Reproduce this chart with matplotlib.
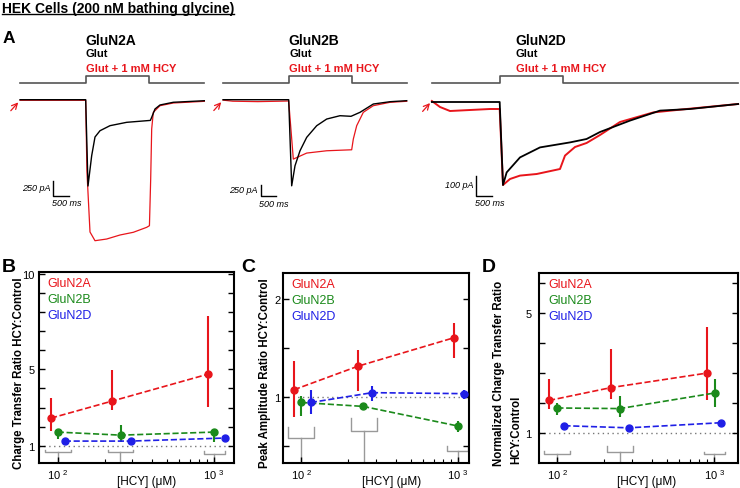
import numpy as np
import matplotlib.pyplot as plt
from matplotlib.lines import Line2D

plt.rcParams['font.family'] = ['Liberation Sans', 'DejaVu Sans']
plt.rcParams['mathtext.fontset'] = 'custom'
plt.rcParams['mathtext.rm'] = 'Liberation Sans'

W, H = 740, 489
RED = '#e8151b'
GREEN = '#1b8a1b'
BLUE = '#1f1fe6'
GREY = '#999999'

# ---- panel A traces: time (ms, 0 = glutamate on) and current (pA) ----
glut_on, glut_off = 0, 2000

a_black_t = [-2110, -10, 64, 182, 288, 448, 768, 1302, 1942, 2060, 2102, 2208, 2368, 2794, 3786]
a_black_i = [0, 0, -1438, -933, -622, -517, -433, -377, -350, -345, -293, -155, -88, -43, -17]
a_red_t = [-2110, -10, 30, 128, 288, 662, 1088, 1514, 1942, 2030, 2070, 2102, 2154, 2368, 2794, 3786]
a_red_i = [-10, -10, -1200, -2205, -2350, -2322, -2255, -2210, -2127, -2100, -1322, -488, -210, -100, -55, -27]

b_black_t = [-2110, -10, 86, 192, 352, 566, 886, 1206, 1632, 1984, 2272, 2698, 3232, 3766]
b_black_i = [0, 0, -2012, -1544, -1193, -880, -608, -452, -374, -388, -295, -101, -47, -23]
b_red_t = [-2110, -1800, -1000, -300, -10, 138, 566, 1206, 2006, 2058, 2166, 2378, 2698, 3232, 3766]
b_red_i = [-10, -35, -45, -35, -30, -1388, -1247, -1193, -1170, -920, -608, -295, -140, -61, -37]

d_black_t = [-2180, -10, 96, 213, 640, 1280, 2240, 2770, 3200, 4160, 5120, 6080, 7620]
d_black_i = [0, 0, -415, -352, -277, -227, -202, -185, -150, -93, -43, -35, -10]
d_red_t = [-2180, -1920, -1600, -960, -320, -10, 96, 320, 640, 1174, 1920, 2080, 2400, 2770, 3200, 3840, 4906, 5974, 7620]
d_red_i = [5, -25, -45, -40, -35, -35, -415, -385, -368, -360, -335, -268, -225, -205, -165, -100, -52, -35, -10]

# ---- panels B-D: [HCY] (uM) and ratios ----
b_red_x = [90.6, 223, 920]
b_red_y = [2.45, 3.34, 4.75]
b_red_lo = [1.77, 2.87, 3.03]
b_red_hi = [3.5, 4.96, 7.78]
b_green_x = [100, 253, 1000]
b_green_y = [1.72, 1.56, 1.72]
b_green_lo = [1.35, 1.2, 1.18]
b_green_hi = [1.78, 2.09, 1.88]
b_blue_x = [111, 293, 1175]
b_blue_y = [1.25, 1.25, 1.41]
b_blue_lo = [1.2, 1.2, 1.36]
b_blue_hi = [1.3, 1.3, 1.46]

c_red_x = [89.8, 230, 942]
c_red_y = [1.07, 1.31, 1.60]
c_red_lo = [0.79, 1.06, 1.39]
c_red_hi = [1.36, 1.47, 1.75]
c_green_x = [100, 248, 1000]
c_green_y = [0.94, 0.90, 0.70]
c_green_lo = [0.80, 0.88, 0.64]
c_green_hi = [1.01, 0.92, 0.75]
c_blue_x = [115, 283, 1097]
c_blue_y = [0.94, 1.04, 1.03]
c_blue_lo = [0.82, 0.96, 0.98]
c_blue_hi = [1.07, 1.11, 1.07]

d_red_x = [88.5, 221, 900]
d_red_y = [2.09, 2.52, 3.0]
d_red_lo = [1.81, 2.14, 2.12]
d_red_hi = [2.79, 3.81, 4.55]
d_green_x = [100, 250, 1014]
d_green_y = [1.84, 1.82, 2.34]
d_green_lo = [1.61, 1.53, 1.87]
d_green_hi = [2.0, 2.25, 2.79]
d_blue_x = [111, 285, 1109]
d_blue_y = [1.25, 1.18, 1.35]
d_blue_lo = [1.2, 1.13, 1.3]
d_blue_hi = [1.3, 1.23, 1.4]

# grey bracket marks under the data (centre, left, right, bar level, end level)
b_brk = [[100, 251, 1000], [83, 210, 863], [121.7, 305, 1175], [0.66, 0.66, 0.57], [0.79, 0.79, 0.71]]
c_brk = [[100, 251, 1000], [82.6, 207.6, 855], [121, 304, 1164], [0.575, 0.653, 0.45], [0.69, 0.78, 0.5]]
d_brk = [[100, 251, 1000], [82.6, 208, 859], [120.5, 303, 1169], [0.31, 0.39, 0.31], [0.42, 0.56, 0.39]]

x_ticks = [100, 1000]
x_ticklabels = [r'$\mathregular{10^{\ 2}}$', r'$\mathregular{10^{\ 3}}$']
x_minor = [200, 300, 400, 500, 600, 700, 800, 900]
b_yticks = [1, 2, 3, 4, 5, 6, 7, 8, 9, 10]
b_ylabels = ['1', '', '', '', '5', '', '', '', '', '10']
c_yticks = [0.5, 1, 1.5, 2]
c_ylabels = ['', '1', '', '2']
d_yticks = [1, 2, 3, 4, 5, 6]
d_ylabels = ['1', '', '', '', '5', '']
names = ['GluN2A', 'GluN2B', 'GluN2D']

fig = plt.figure(figsize=(7.4, 4.89), dpi=100)


def px_axes(x0, y0, x1, y1):
    return fig.add_axes([x0 / W, 1 - y1 / H, (x1 - x0) / W, (y1 - y0) / H])


def fx(p):
    return p / W


def fy(p):
    return 1 - p / H


def trace_panel(x0, x1, t0_px, base_px, ms_pp, pa_pp, traces, t_start, t_end,
                bar_t, bar_i, bar_pa, bar_lw=1.0):
    # stimulus
    st = px_axes(x0, 70, x1, 90)
    st.set_xlim((x0 - t0_px) * ms_pp, (x1 - t0_px) * ms_pp)
    st.set_ylim(-(90 - 84) / 6.7, (84 - 70) / 6.7)
    st.plot([t_start, glut_on, glut_on, glut_off, glut_off, t_end],
            [0, 0, 1, 1, 0, 0], color='#555555', lw=1.2)
    st.axis('off')
    ax = px_axes(x0, 90, x1, 260)
    ax.set_xlim((x0 - t0_px) * ms_pp, (x1 - t0_px) * ms_pp)
    ax.set_ylim(-(260 - base_px) * pa_pp, (base_px - 90) * pa_pp)
    for t, i, c, lw in traces:
        ax.plot(t, i, color=c, lw=lw)
    ax.annotate('', xy=(traces[0][0][0], traces[0][1][0]), xytext=(-8, -9),
                textcoords='offset points',
                arrowprops=dict(arrowstyle='->', color=RED, lw=0.9))
    ax.plot([bar_t, bar_t, bar_t + 500], [bar_i + bar_pa, bar_i, bar_i], color='k', lw=bar_lw)
    ax.annotate('%d pA' % bar_pa, xy=(bar_t, bar_i + bar_pa * 0.55), xytext=(-2, 0),
                textcoords='offset points', ha='right', va='center',
                fontsize=6.5, style='italic')
    ax.annotate('500 ms', xy=(bar_t, bar_i), xytext=(-1, -2),
                textcoords='offset points', ha='left', va='top',
                fontsize=6.5, style='italic')
    ax.axis('off')
    return ax


trace_panel(0, 212, 86, 100.7, 32, 250 / 15,
            [(a_red_t, a_red_i, RED, 0.9), (a_black_t, a_black_i, 'k', 1.0)],
            -2110, 3790, -1046, -1600, 250)
trace_panel(212, 420, 289, 100.7, 32, 250 / 10.7,
            [(b_red_t, b_red_i, RED, 0.9), (b_black_t, b_black_i, 'k', 1.0)],
            -2110, 3770, -906, -2246, 250)
trace_panel(420, 740, 500, 103, 32, 5.0,
            [(d_red_t, d_red_i, RED, 1.4), (d_black_t, d_black_i, 'k', 1.3)],
            -2180, 7620, -768, -468, 100)

# headings for panel A
title = fig.text(fx(2), fy(13), 'HEK Cells (200 nM bathing glycine)', fontsize=10,
                 fontweight='bold', va='baseline')
fig.text(fx(3), fy(43), 'A', fontsize=12.5, fontweight='bold', va='baseline')
for xp, nm in zip([85, 288, 515], names):
    fig.text(fx(xp), fy(45), nm, fontsize=10, fontweight='bold', va='baseline')
    fig.text(fx(xp + 1), fy(57), 'Glut', fontsize=8, fontweight='bold', va='baseline')
    fig.text(fx(xp + 1), fy(71.5), 'Glut + 1 mM HCY', fontsize=8, fontweight='bold',
             va='baseline', color=RED)


def ratio_panel(box, xlim, ylim, yticks, ylabels, series, brk, pad):
    ax = px_axes(*box)
    ax.set_xscale('log')
    ax.set_xlim(*xlim)
    ax.set_ylim(*ylim)
    for c, l, r, lev, top in zip(*brk):
        ax.plot([l, l, r, r], [top, lev, lev, top], color=GREY, lw=1, zorder=1)
        ax.plot([c, c], [lev, ylim[0]], color=GREY, lw=1, zorder=1)
    ax.axhline(1, color='#777777', ls=(0, (1, 2.5)), lw=1, zorder=1)
    for x, y, lo, hi, col in series:
        y = np.array(y)
        err = [y - np.array(lo), np.array(hi) - y]
        ax.errorbar(x, y, yerr=err, fmt='o--', color=col, ms=5, lw=1.2,
                    elinewidth=1.5, capsize=0, zorder=3)
    for k, (nm, col) in enumerate(zip(names, [RED, GREEN, BLUE])):
        ax.text(0.045, 0.94 - k * 0.082, nm, transform=ax.transAxes, color=col,
                fontsize=9, va='center')
    ax.set_xticks(x_ticks)
    ax.set_xticklabels(x_ticklabels)
    ax.set_xticks(x_minor, minor=True)
    ax.set_xticklabels([], minor=True)
    ax.set_yticks(yticks)
    ax.set_yticklabels(ylabels)
    ax.tick_params(which='major', direction='in', length=4, width=1, right=True,
                   labelsize=8, pad=3)
    ax.tick_params(axis='y', pad=pad)
    ax.tick_params(which='minor', direction='in', length=3, width=0.8)
    for s in ax.spines.values():
        s.set_linewidth(1.5)
    fig.text(fx(box[0] + 108), fy(482), '[HCY] (\u03bcM)', fontsize=8.5, ha='center', va='center')
    return ax


ratio_panel((39, 273, 234, 464.3), (75.9, 1343), (0.09, 10.08), b_yticks, b_ylabels,
            [(b_red_x, b_red_y, b_red_lo, b_red_hi, RED),
             (b_green_x, b_green_y, b_green_lo, b_green_hi, GREEN),
             (b_blue_x, b_blue_y, b_blue_lo, b_blue_hi, BLUE)], b_brk, 3)
ratio_panel((283.3, 274, 469.3, 464.3), (76.7, 1181), (0.32, 2.26), c_yticks, c_ylabels,
            [(c_red_x, c_red_y, c_red_lo, c_red_hi, RED),
             (c_green_x, c_green_y, c_green_lo, c_green_hi, GREEN),
             (c_blue_x, c_blue_y, c_blue_lo, c_blue_hi, BLUE)], c_brk, 2)
ratio_panel((539, 274, 738, 464.3), (76.4, 1423), (0, 6.33), d_yticks, d_ylabels,
            [(d_red_x, d_red_y, d_red_lo, d_red_hi, RED),
             (d_green_x, d_green_y, d_green_lo, d_green_hi, GREEN),
             (d_blue_x, d_blue_y, d_blue_lo, d_blue_hi, BLUE)], d_brk, 5.5)

fig.text(fx(2), fy(272), 'B', fontsize=14, fontweight='bold', va='baseline')
fig.text(fx(241.5), fy(272), 'C', fontsize=14, fontweight='bold', va='baseline')
fig.text(fx(481.5), fy(271.5), 'D', fontsize=14, fontweight='bold', va='baseline')

fig.text(fx(19), fy(373), 'Charge Transfer Ratio HCY:Control', rotation=90,
         fontsize=8.3, fontweight='bold', ha='center', va='center')
fig.text(fx(265), fy(373), 'Peak Amplitude Ratio HCY:Control', rotation=90,
         fontsize=8.3, fontweight='bold', ha='center', va='center')
fig.text(fx(499), fy(466), 'Normalized Charge Transfer Ratio', rotation=90,
         fontsize=8.3, fontweight='bold', ha='center', va='bottom')
fig.text(fx(516), fy(464), 'HCY:Control', rotation=90,
         fontsize=8.3, fontweight='bold', ha='center', va='bottom')

# underline the heading
fig.canvas.draw()
bb = title.get_window_extent()
fig.add_artist(Line2D([bb.x0 / W, bb.x1 / W], [fy(14.8), fy(14.8)], color='k', lw=1.0))

fig.savefig('out.png', dpi=100)
